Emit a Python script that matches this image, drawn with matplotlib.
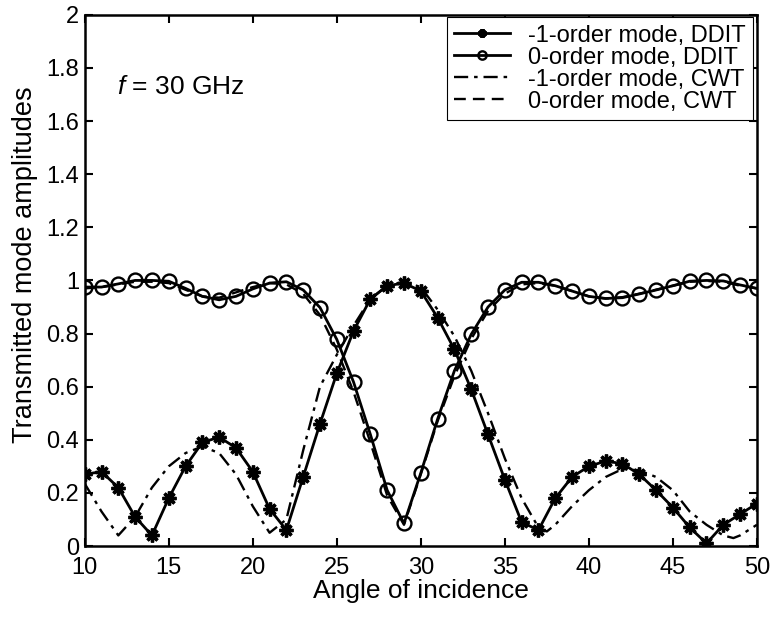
import numpy as np
import matplotlib
matplotlib.use('Agg')
import matplotlib.pyplot as plt
from matplotlib.ticker import FormatStrFormatter

plt.rcParams['font.family'] = ['Liberation Sans', 'DejaVu Sans']
plt.rcParams['mathtext.fontset'] = 'custom'
plt.rcParams['mathtext.it'] = 'Liberation Sans:italic'
plt.rcParams['mathtext.rm'] = 'Liberation Sans'

# ── data ──────────────────────────────────────────────────────────────────
angle = list(range(10, 51))

m1_ddit = [0.27, 0.28, 0.22, 0.11, 0.04, 0.18, 0.30, 0.39, 0.41, 0.37,
           0.28, 0.14, 0.06, 0.26, 0.46, 0.65, 0.81, 0.93, 0.98, 0.99,
           0.96, 0.86, 0.74, 0.59, 0.42, 0.25, 0.09, 0.06, 0.18, 0.26,
           0.30, 0.32, 0.31, 0.27, 0.21, 0.145, 0.07, 0.01, 0.08, 0.12,
           0.16]

m0_ddit = [0.975, 0.975, 0.987, 1.0, 1.0, 0.997, 0.97, 0.94, 0.927, 0.94,
           0.968, 0.99, 0.995, 0.964, 0.898, 0.778, 0.617, 0.42, 0.21, 0.085,
           0.275, 0.478, 0.66, 0.797, 0.90, 0.964, 0.993, 0.993, 0.98, 0.96,
           0.94, 0.932, 0.935, 0.949, 0.964, 0.98, 0.997, 1.0, 0.998, 0.983,
           0.97]

# CWT curves (angles and values)
cwt_m1_x = [10, 11, 12, 13, 14, 15, 16, 17, 18, 19, 20, 21, 22, 23, 24,
            25, 26, 27, 28, 29, 30, 31, 32, 33, 34, 35, 36, 37, 37.5, 38,
            39, 40, 41, 42, 43, 44, 45, 46, 47, 48, 48.6, 49, 50]
cwt_m1_y = [0.235, 0.13, 0.04, 0.11, 0.22, 0.30, 0.35, 0.375, 0.35, 0.27,
            0.15, 0.05, 0.10, 0.36, 0.60, 0.72, 0.83, 0.93, 0.98, 0.995,
            0.975, 0.89, 0.79, 0.66, 0.50, 0.33, 0.18, 0.07, 0.055, 0.08,
            0.15, 0.21, 0.26, 0.29, 0.285, 0.26, 0.21, 0.13, 0.08, 0.04,
            0.03, 0.04, 0.08]

cwt_m0_x = angle
cwt_m0_y = [0.97, 0.975, 0.985, 0.995, 0.995, 0.99, 0.965, 0.94, 0.935, 0.955,
            0.975, 0.99, 0.985, 0.95, 0.87, 0.74, 0.58, 0.39, 0.19, 0.08,
            0.27, 0.47, 0.64, 0.78, 0.885, 0.95, 0.985, 0.99, 0.98, 0.96,
            0.94, 0.932, 0.937, 0.95, 0.965, 0.98, 0.995, 0.998, 0.995, 0.98,
            0.97]

labels = ['-1-order mode, DDIT', '0-order mode, DDIT',
          '-1-order mode, CWT', '0-order mode, CWT']

# ── plot ──────────────────────────────────────────────────────────────────
fig = plt.figure(figsize=(7.7, 6.17), dpi=100)
ax = fig.add_axes([0.110, 0.115, 0.873, 0.861])

ax.plot(angle, m1_ddit, color='black', lw=2.0, marker=(8, 2, 0),
        ms=10, mew=2.4, label=labels[0])
ax.plot(angle, m0_ddit, color='black', lw=2.0, marker='o', ms=10,
        mfc='none', mew=1.7, label=labels[1])
ax.plot(cwt_m1_x, cwt_m1_y, color='black', lw=1.7,
        linestyle=(0, (6, 2.5, 1.5, 2.5)), label=labels[2])
ax.plot(cwt_m0_x, cwt_m0_y, color='black', lw=1.7,
        linestyle=(0, (5, 3)), label=labels[3])

ax.set_xlim(10, 50)
ax.set_ylim(0, 2)
ax.set_xticks(range(10, 51, 5))
ax.set_yticks(np.arange(0, 2.01, 0.2))
ax.yaxis.set_major_formatter(FormatStrFormatter('%g'))
ax.tick_params(direction='in', top=True, right=True, length=6, width=1.5,
               labelsize=17)
ax.tick_params(axis='x', pad=8)
ax.tick_params(axis='y', pad=4)
for sp in ax.spines.values():
    sp.set_linewidth(1.8)

ax.set_xlabel('Angle of incidence', fontsize=19, labelpad=0)
ax.set_ylabel('Transmitted mode amplitudes', fontsize=19.5)
ax.yaxis.set_label_coords(-0.07, 0.53)

ax.text(11.9, 1.73, r'$f$ = 30 GHz', fontsize=19, va='center')

leg = ax.legend(loc='upper right', bbox_to_anchor=(0.994, 0.995),
                fontsize=17, frameon=True, fancybox=False,
                edgecolor='black', framealpha=1, borderpad=0.3,
                labelspacing=0.0, handlelength=2.4, handletextpad=0.75,
                borderaxespad=0.0, markerscale=0.6)
leg.get_frame().set_linewidth(0.8)

fig.savefig('out.png', dpi=100)
plt.close(fig)
